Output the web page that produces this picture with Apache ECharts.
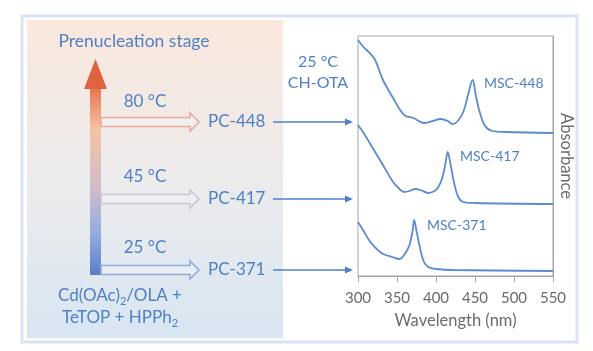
<!DOCTYPE html>
<html>
<head>
<meta charset="utf-8">
<script src="https://cdn.jsdelivr.net/npm/echarts@6/dist/echarts.min.js"></script>
<style>
  html, body { margin: 0; padding: 0; background: #fff; }
  #main { width: 593px; height: 351px; }
</style>
</head>
<body>
<div id="main"></div>
<script>
// spectra (absorbance in arbitrary offset units)
var wl448 = [300, 307, 315, 322, 332, 345, 354, 361, 371, 384, 396, 406, 415, 421, 428, 435, 441, 447, 451, 456, 463, 472, 488, 550];
var ab448 = [236, 229, 223, 216, 196, 178, 166, 160, 158, 153, 155, 157, 155, 152, 155, 164, 181, 196, 181, 164, 150, 145, 144, 143];

var wl417 = [300, 308, 315, 332, 345, 352, 359, 366, 373, 380, 390, 398, 403, 408, 412, 415, 419, 423, 428, 435, 450, 550];
var ab417 = [151, 142, 133, 111, 94, 88, 84, 85, 87, 86, 83, 85, 89, 98, 112, 124, 110, 94, 80, 74, 73, 72];

var wl371 = [300, 308, 315, 324, 332, 344, 353, 360, 366, 370, 372, 375, 379, 384, 390, 400, 423, 550];
var ab371 = [54, 44, 35, 27, 22, 19, 17, 22, 31, 45, 56, 45, 30, 15, 9, 7, 6, 5];

var xTicks = [300, 350, 400, 450, 500, 550];
var seriesNames = ['MSC-448', 'MSC-417', 'MSC-371'];
var precursors = ['PC-448', 'PC-417', 'PC-371'];
var temps = ['80 °C', '45 °C', '25 °C'];

function zip(a, b) {
  var out = [];
  for (var i = 0; i < a.length; i++) out.push([a[i], b[i]]);
  return out;
}

var chart = echarts.init(document.getElementById('main'), null, { renderer: 'canvas' });

var FONT = 'Lato, "Open Sans", sans-serif';
var BLUE = '#4f7fc4';
var LINE = '#5b8bd2';
var GREY = '#6b6b6b';

var arrowCols = ['#e8aba2', '#cfc3d6', '#93abd9'];
var rowY = [122, 199, 270];
var tempY = [102, 177, 248];

var graphics = [];

// outer frame
graphics.push({
  type: 'rect', z: 0,
  shape: { x: 22, y: 16, width: 555, height: 326 },
  style: { fill: '#fff', stroke: '#d9e3f3', lineWidth: 3 }
});
// left panel
graphics.push({
  type: 'rect', z: 1,
  shape: { x: 27, y: 20, width: 256, height: 318 },
  style: {
    fill: new echarts.graphic.LinearGradient(0, 0, 0, 1, [
      { offset: 0, color: '#fbe8dd' },
      { offset: 0.5, color: '#ecebec' },
      { offset: 1, color: '#d8e6f2' }
    ])
  }
});
// vertical arrow
graphics.push({
  type: 'rect', z: 2,
  shape: { x: 90, y: 88, width: 11, height: 187 },
  style: {
    fill: new echarts.graphic.LinearGradient(0, 0, 0, 1, [
      { offset: 0, color: '#e6754f' },
      { offset: 0.22, color: '#f4c3a2' },
      { offset: 0.55, color: '#cdbccb' },
      { offset: 0.78, color: '#93acdf' },
      { offset: 1, color: '#5a7ec6' }
    ])
  }
});
graphics.push({
  type: 'polygon', z: 2,
  shape: { points: [[84, 89], [95.5, 59], [107, 89]] },
  style: { fill: '#e0633f' }
});

for (var i = 0; i < 3; i++) {
  var c = rowY[i];
  graphics.push({
    type: 'polygon', z: 2,
    shape: { points: [[101, c - 4.5], [190, c - 4.5], [190, c - 9], [199, c], [190, c + 9], [190, c + 4.5], [101, c + 4.5]] },
    style: { fill: 'rgba(255,255,255,0.25)', stroke: arrowCols[i], lineWidth: 1.6 }
  });
  graphics.push({
    type: 'text', z: 3,
    style: { text: temps[i], x: 145, y: tempY[i], align: 'center', verticalAlign: 'middle', fill: BLUE, font: '17px ' + FONT }
  });
  graphics.push({
    type: 'text', z: 3,
    style: { text: precursors[i], x: 208, y: c, align: 'left', verticalAlign: 'middle', fill: BLUE, font: '17px ' + FONT }
  });
  graphics.push({
    type: 'line', z: 3,
    shape: { x1: 273, y1: c, x2: 350, y2: c },
    style: { stroke: '#4f80c8', lineWidth: 1.5 }
  });
  graphics.push({
    type: 'polygon', z: 3,
    shape: { points: [[345, c - 3.5], [353, c], [345, c + 3.5]] },
    style: { fill: '#4f80c8' }
  });
}

graphics.push({
  type: 'text', z: 3,
  style: { text: 'Prenucleation stage', x: 134, y: 41, align: 'center', verticalAlign: 'middle', fill: BLUE, font: '17.5px ' + FONT }
});
graphics.push({
  type: 'text', z: 3,
  style: {
    text: '{a|Cd(OAc)}{s|2}{a|/OLA +}\n{a|TeTOP + HPPh}{s|2}',
    x: 120, y: 307, align: 'center', verticalAlign: 'middle',
    rich: {
      a: { fill: BLUE, fontSize: 17, fontFamily: FONT, lineHeight: 22, verticalAlign: 'middle' },
      s: { fill: BLUE, fontSize: 11, fontFamily: FONT, lineHeight: 13, verticalAlign: 'bottom' }
    }
  }
});
graphics.push({
  type: 'text', z: 3,
  style: { text: '25 °C\nCH-OTA', x: 318, y: 72, align: 'center', verticalAlign: 'middle', fill: BLUE, font: '16px ' + FONT, lineHeight: 21 }
});

// curve labels
var labelPos = [[484, 83], [460, 156], [427, 225]];
for (var k = 0; k < 3; k++) {
  graphics.push({
    type: 'text', z: 3,
    style: { text: seriesNames[k], x: labelPos[k][0], y: labelPos[k][1], align: 'left', verticalAlign: 'middle', fill: BLUE, font: '14px ' + FONT }
  });
}

var lineStyle = { color: LINE, width: 1.8 };

chart.setOption({
  animation: false,
  graphic: graphics,
  grid: {
    left: 358, top: 36, width: 195, height: 240,
    show: true, borderColor: '#a6a6a6', borderWidth: 1, backgroundColor: 'transparent', z: 4
  },
  xAxis: {
    type: 'value', min: 300, max: 550, interval: 50,
    name: 'Wavelength (nm)', nameLocation: 'middle', nameGap: 36,
    nameTextStyle: { color: GREY, fontSize: 16.5, fontFamily: FONT },
    axisLine: { lineStyle: { color: '#a6a6a6', width: 1 } },
    axisTick: { show: true, length: 6, lineStyle: { color: '#a6a6a6' } },
    axisLabel: { color: GREY, fontSize: 15, fontFamily: FONT, margin: 15,
      formatter: function (v) { return xTicks.indexOf(v) >= 0 ? String(v) : ''; } },
    splitLine: { show: false }
  },
  yAxis: {
    type: 'value', min: 0, max: 240, position: 'right',
    name: 'Absorbance', nameLocation: 'middle', nameRotate: -90, nameGap: 5,
    nameTextStyle: { color: GREY, fontSize: 16.5, fontFamily: FONT },
    axisLine: { show: true, lineStyle: { color: '#a6a6a6', width: 1 } },
    axisTick: { show: false }, axisLabel: { show: false },
    splitLine: { show: false }
  },
  series: [
    { name: seriesNames[0], type: 'line', data: zip(wl448, ab448), showSymbol: false, smooth: 0.35, lineStyle: lineStyle, z: 5 },
    { name: seriesNames[1], type: 'line', data: zip(wl417, ab417), showSymbol: false, smooth: 0.35, lineStyle: lineStyle, z: 5 },
    { name: seriesNames[2], type: 'line', data: zip(wl371, ab371), showSymbol: false, smooth: 0.35, lineStyle: lineStyle, z: 5 }
  ]
});
</script>
</body>
</html>
